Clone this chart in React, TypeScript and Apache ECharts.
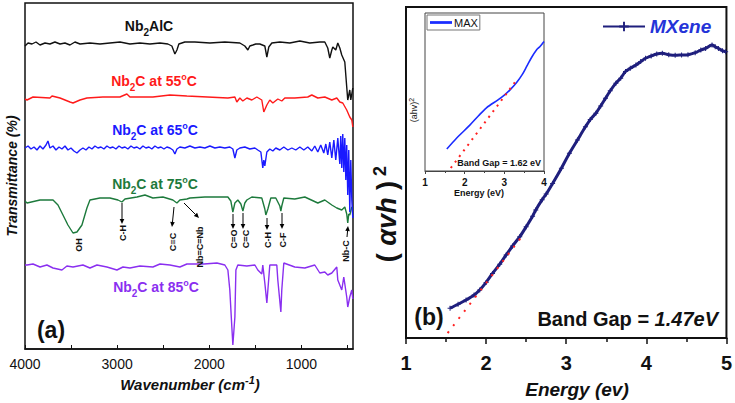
import React, { useEffect, useRef } from 'react';
import * as echarts from 'echarts';

const FONT = '"Liberation Sans", Arial, sans-serif';

// ---------- Panel (a): FTIR spectra, [wavenumber cm-1, offset transmittance a.u.] ----------
const nb2alcSpectrum: number[][] = [
  [4000, 303], [3967, 306], [3924, 305], [3881, 307], [3837, 304], [3783, 306], [3729, 305], [3675, 307],
  [3620, 305], [3566, 306], [3512, 304], [3458, 307], [3403, 305], [3295, 306], [3186, 305], [3078, 306],
  [2969, 307], [2861, 305], [2753, 306], [2644, 305], [2535, 306], [2449, 305], [2406, 303], [2373, 295],
  [2351, 299], [2330, 305], [2265, 307], [2156, 307], [1993, 306], [1831, 307], [1668, 306], [1614, 303],
  [1581, 299], [1560, 303], [1527, 304], [1495, 305], [1451, 305], [1397, 303], [1375, 292], [1354, 302],
  [1321, 306], [1234, 307], [1126, 306], [1017, 308], [909, 306], [800, 307], [746, 307], [714, 301],
  [692, 291], [670, 299], [659, 302], [627, 299], [605, 306], [583, 301], [562, 294], [529, 287],
  [508, 262], [497, 249], [475, 259], [464, 249], [442, 261],
];

const nb2c55Spectrum: number[][] = [
  [4000, 250], [3978, 249], [3913, 252], [3729, 251], [3707, 253], [3620, 251], [3512, 247], [3479, 246],
  [3403, 249], [3328, 251], [3154, 252], [2970, 252], [2894, 255], [2861, 252], [2612, 252], [2427, 254],
  [2243, 253], [1798, 251], [1722, 252], [1701, 247], [1668, 251], [1636, 248], [1592, 251], [1538, 249],
  [1484, 252], [1430, 249], [1408, 237], [1375, 244], [1343, 249], [1310, 246], [1256, 250], [1213, 248],
  [1180, 251], [1072, 251], [931, 252], [887, 254], [822, 251], [746, 252], [670, 249], [616, 251],
  [583, 247], [551, 246], [508, 239], [475, 232], [453, 229], [442, 222],
];

const nb2c65Spectrum: number[][] = [
  [4000, 201], [3967, 203], [3935, 200], [3902, 202], [3870, 199], [3837, 203], [3805, 200], [3772, 204],
  [3751, 208], [3729, 201], [3696, 203], [3664, 199], [3631, 202], [3599, 200], [3566, 203], [3534, 199],
  [3501, 201], [3469, 198], [3436, 196], [3403, 199], [3371, 201], [3338, 199], [3306, 202], [3273, 200],
  [3241, 203], [3208, 201], [3176, 202], [3143, 200], [3111, 203], [3078, 201], [3046, 202], [3013, 200],
  [2980, 203], [2948, 201], [2915, 202], [2883, 200], [2850, 203], [2818, 201], [2785, 202], [2753, 200],
  [2720, 203], [2688, 201], [2655, 202], [2623, 200], [2590, 203], [2557, 201], [2525, 202], [2492, 200],
  [2460, 202], [2427, 201], [2395, 199], [2373, 195], [2351, 200], [2319, 202], [2265, 201], [2210, 203],
  [2156, 201], [2102, 202], [2048, 201], [1993, 203], [1939, 201], [1885, 202], [1831, 201], [1777, 202],
  [1744, 200], [1722, 191], [1701, 199], [1668, 201], [1614, 202], [1560, 200], [1505, 201], [1473, 199],
  [1440, 197], [1419, 181], [1408, 189], [1397, 183], [1375, 197], [1343, 200], [1310, 198], [1278, 201],
  [1234, 199], [1191, 202], [1147, 199], [1104, 201], [1061, 199], [1017, 202], [974, 199], [931, 202],
  [887, 198], [855, 203], [822, 197], [790, 204], [757, 196], [735, 205], [714, 194], [692, 207],
  [670, 191], [648, 209], [627, 189], [605, 211], [583, 185], [573, 213], [562, 181], [551, 215],
  [540, 177], [529, 211], [518, 169], [508, 204], [497, 154], [486, 199], [475, 137], [464, 189],
  [453, 149], [442, 131],
];

const nb2c75Spectrum: number[][] = [
  [4000, 148], [3978, 146], [3837, 149], [3696, 149], [3642, 144], [3588, 134], [3534, 124], [3479, 116],
  [3436, 117], [3382, 124], [3328, 141], [3295, 149], [3187, 151], [3078, 151], [2991, 149], [2948, 147],
  [2915, 150], [2785, 152], [2698, 154], [2612, 151], [2503, 152], [2395, 149], [2351, 146], [2319, 149],
  [2243, 150], [2210, 151], [2048, 152], [1798, 152], [1766, 148], [1744, 137], [1722, 146], [1690, 149],
  [1657, 145], [1635, 138], [1614, 146], [1592, 149], [1538, 152], [1430, 151], [1397, 140], [1386, 134],
  [1364, 140], [1332, 151], [1278, 151], [1234, 143], [1223, 138], [1213, 143], [1191, 151], [1072, 150],
  [963, 152], [822, 146], [746, 149], [670, 144], [616, 141], [562, 139], [529, 142], [508, 135],
  [497, 126], [486, 135], [475, 134], [453, 142], [442, 140],
];

const nb2c85Spectrum: number[][] = [
  [4000, 84], [3978, 84], [3913, 85], [3837, 82], [3762, 84], [3696, 81], [3599, 79], [3545, 83],
  [3479, 82], [3371, 84], [3295, 81], [3219, 84], [3111, 82], [3002, 79], [2937, 82], [2861, 81],
  [2753, 83], [2612, 82], [2535, 85], [2427, 84], [2319, 82], [2243, 85], [2058, 85], [1917, 86],
  [1831, 84], [1798, 79], [1777, 59], [1755, 22], [1744, 4], [1722, 32], [1711, 79], [1690, 84],
  [1592, 83], [1505, 84], [1473, 79], [1430, 75], [1419, 84], [1397, 66], [1375, 46], [1364, 59],
  [1343, 84], [1267, 84], [1256, 69], [1223, 37], [1213, 59], [1191, 86], [1072, 82], [963, 81],
  [855, 84], [800, 76], [746, 77], [714, 74], [670, 76], [616, 82], [605, 69], [562, 59],
  [540, 72], [508, 52], [497, 42], [475, 52], [453, 59], [442, 50],
];

const ftirLabelTicks = [4000, 3000, 2000, 1000];
const ftirMinorTicks = [4000, 3500, 3000, 2500, 2000, 1500, 1000, 500];

// ---------- Panel (b): Tauc plot, [energy eV, (αhν)^2 a.u.] ----------
const mxeneCurve: number[][] = [
  [1.55, 9.0], [1.65, 10.2], [1.75, 11.5], [1.85, 13.0], [1.92, 14.5], [2.0, 16.8], [2.08, 19.5],
  [2.17, 22.3], [2.25, 25.1], [2.33, 27.8], [2.42, 30.6], [2.5, 33.6], [2.58, 36.8], [2.62, 38.7],
  [2.7, 41.8], [2.75, 43.5], [2.83, 46.7], [2.94, 51.3], [3.04, 55.8], [3.14, 59.8], [3.24, 63.8],
  [3.3, 66.0], [3.37, 67.9], [3.43, 70.1], [3.49, 72.4], [3.55, 74.7], [3.62, 77.0], [3.68, 78.5],
  [3.74, 80.5], [3.8, 81.5], [3.87, 82.5], [3.93, 83.5], [3.99, 84.5], [4.06, 85.2], [4.13, 85.8],
  [4.2, 86.0], [4.28, 85.6], [4.36, 85.4], [4.44, 85.5], [4.52, 85.6], [4.61, 86.2], [4.68, 87.0],
  [4.74, 87.5], [4.82, 88.5], [4.86, 88.0], [4.9, 87.5], [4.95, 86.8], [4.99, 86.5],
];
const mxeneTangent: number[][] = [[1.52, 1.5], [2.46, 31.1]];

const maxCurve: number[][] = [
  [1.55, 13.9], [1.8, 20.9], [2.13, 29.0], [2.35, 35.0], [2.55, 40.0], [2.84, 45.0], [3.0, 48.0],
  [3.15, 51.5], [3.31, 56.0], [3.45, 61.0], [3.56, 66.0], [3.69, 72.0], [3.81, 76.6], [3.9, 78.8],
  [3.97, 81.0], [4.0, 82.0],
];
const maxTangent: number[][] = [[1.65, 1.9], [3.31, 57.6]];

const energyTicks = [1, 2, 3, 4, 5];

function arrow(x1: number, y1: number, x2: number, y2: number) {
  const dx = x2 - x1;
  const dy = y2 - y1;
  const len = Math.sqrt(dx * dx + dy * dy) || 1;
  const ux = dx / len;
  const uy = dy / len;
  const hl = 5;
  const hw = 2.3;
  const bx = x2 - ux * hl;
  const by = y2 - uy * hl;
  return [
    { type: 'line', silent: true, shape: { x1, y1, x2: bx, y2: by }, style: { stroke: '#000', lineWidth: 1 } },
    {
      type: 'polygon', silent: true,
      shape: { points: [[x2, y2], [bx - uy * hw, by + ux * hw], [bx + uy * hw, by - ux * hw]] },
      style: { fill: '#000' },
    },
  ];
}

function richStyles(color: string, size: number) {
  return {
    m: { fontSize: size, fontWeight: 'bold', fill: color, fontFamily: FONT },
    s: { fontSize: Math.round(size * 0.68), fontWeight: 'bold', fill: color, fontFamily: FONT, padding: [13, 0, 0, 0] },
    u: { fontSize: Math.round(size * 0.62), fontWeight: 'bold', fill: color, fontFamily: FONT, padding: [0, 0, 9, 0] },
  };
}

function textEl(x: number, y: number, text: string, opts: any = {}) {
  return {
    type: 'text',
    x,
    y,
    rotation: opts.rotation || 0,
    silent: true,
    z: 10,
    style: {
      text,
      x: 0,
      y: 0,
      fill: opts.color || '#111',
      font: opts.font || `bold 12px ${FONT}`,
      rich: opts.rich,
      align: opts.align || 'center',
      verticalAlign: 'middle',
      textAlign: opts.align || 'center',
      textVerticalAlign: 'middle',
    },
  };
}

function spectrumLabel(x: number, y: number, temp: string | null, color: string) {
  const t = temp === null ? '{m|Nb}{s|2}{m|AlC}' : `{m|Nb}{s|2}{m|C at ${temp}}{u|o}{m|C}`;
  return textEl(x, y, t, { rich: richStyles(color, 14), color });
}

export default function App() {
  const ref = useRef<HTMLDivElement>(null);

  useEffect(() => {
    document.body.style.margin = '0';
    if (!ref.current) return;
    const chart = echarts.init(ref.current, undefined, { renderer: 'svg' });

    const PI2 = Math.PI / 2;
    const annot = (x: number, y: number, t: string) =>
      textEl(x, y, t, { rotation: PI2, font: `bold 9px ${FONT}` });

    const graphic: any[] = [
      // panel (a) titles
      textEl(12, 176, 'Transmittance (%)', { rotation: PI2, font: `italic bold 14px ${FONT}` }),
      textEl(190, 384, '{t|Wavenumber (cm}{u|-1}{t|)}', {
        rich: {
          t: { fontSize: 15, fontWeight: 'bold', fontStyle: 'italic', fill: '#111', fontFamily: FONT },
          u: { fontSize: 11, fontWeight: 'bold', fontStyle: 'italic', fill: '#111', fontFamily: FONT, padding: [0, 0, 9, 0] },
        },
      }),
      textEl(51, 330, '(a)', { font: `bold 23px ${FONT}` }),
      spectrumLabel(149, 26, null, '#111'),
      spectrumLabel(154, 81, '55', '#ff1a1a'),
      spectrumLabel(155, 130, '65', '#1a1aff'),
      spectrumLabel(155, 184, '75', '#1d7a3c'),
      spectrumLabel(156, 287, '85', '#8a2ff0'),
      // band assignments
      annot(79, 245, 'OH'),
      annot(123, 233, 'C-H'),
      annot(173, 242, 'C≡C'),
      annot(200, 247, 'Nb=C=Nb'),
      annot(234, 239, 'C=O'),
      annot(246, 239, 'C=C'),
      annot(268, 240, 'C-H'),
      annot(283, 240, 'C-F'),
      annot(346, 251, 'Nb-C'),
      ...arrow(122, 203, 122, 224),
      ...arrow(174, 207, 172, 227),
      ...arrow(184, 203, 199, 218),
      ...arrow(233, 214, 233, 229),
      ...arrow(243, 213, 243, 229),
      ...arrow(267, 218, 267, 230),
      ...arrow(282, 213, 282, 229),
      ...arrow(347, 237, 348, 226),
      // panel (b)
      textEl(387, 214, '{p|( }{i|αvh}{p| )}{u| 2}', {
        rotation: PI2,
        rich: {
          p: { fontSize: 27, fontWeight: 'bold', fill: '#111', fontFamily: FONT },
          i: { fontSize: 27, fontWeight: 'bold', fontStyle: 'italic', fill: '#111', fontFamily: FONT },
          u: { fontSize: 18, fontWeight: 'bold', fill: '#111', fontFamily: FONT, padding: [0, 0, 14, 0] },
        },
      }),
      textEl(577, 389, 'Energy (ev)', { font: `italic bold 19px ${FONT}` }),
      textEl(429, 317, '(b)', { font: `bold 23px ${FONT}` }),
      textEl(718, 319, '{t|Band Gap = }{i|1.47eV}', {
        align: 'right',
        rich: {
          t: { fontSize: 20, fontWeight: 'bold', fill: '#111', fontFamily: FONT },
          i: { fontSize: 20, fontWeight: 'bold', fontStyle: 'italic', fill: '#111', fontFamily: FONT },
        },
      }),
      // inset
      textEl(414, 110, '{t|(ahv)}{u|2}', {
        rotation: PI2,
        rich: {
          t: { fontSize: 9, fill: '#222', fontFamily: FONT },
          u: { fontSize: 7, fill: '#222', fontFamily: FONT, padding: [0, 0, 6, 0] },
        },
      }),
      textEl(479, 193, 'Energy (eV)', { font: `bold 9px ${FONT}` }),
      textEl(541, 163, 'Band Gap = 1.62 eV', { font: `bold 9px ${FONT}`, align: 'right' }),
    ];

    const hiddenY = (gridIndex: number, max: number) => ({
      type: 'value', gridIndex, min: 0, max,
      axisLine: { show: false }, axisTick: { show: false }, axisLabel: { show: false }, splitLine: { show: false },
    });

    const spectrum = (name: string, data: number[][], color: string) => ({
      name, type: 'line', xAxisIndex: 0, yAxisIndex: 0, data, showSymbol: false, symbol: 'none',
      lineStyle: { color, width: 1.4 }, itemStyle: { color }, z: 3,
    });

    const option: any = {
      animation: false,
      backgroundColor: '#fff',
      textStyle: { fontFamily: FONT },
      grid: [
        { left: 25, top: 3, width: 328, height: 346, show: true, borderColor: '#111', borderWidth: 1.5, containLabel: false },
        { left: 406, top: 7, width: 322, height: 331, show: true, borderColor: '#111', borderWidth: 2, containLabel: false },
        { left: 425, top: 13, width: 119, height: 158, show: true, borderColor: '#444', borderWidth: 1, backgroundColor: '#fff', containLabel: false },
      ],
      xAxis: [
        {
          type: 'value', gridIndex: 0, min: 440, max: 4000, inverse: true,
          axisLine: { show: true, lineStyle: { color: '#111', width: 1.5 } },
          axisTick: { show: true, inside: true, length: 4, customValues: ftirMinorTicks, lineStyle: { color: '#111' } },
          axisLabel: {
            show: true, customValues: ftirLabelTicks, fontSize: 14, color: '#111', margin: 8, fontFamily: FONT,
            formatter: (v: number) => String(v),
          },
          splitLine: { show: false },
        },
        {
          type: 'value', gridIndex: 1, min: 1, max: 5, interval: 1,
          axisLine: { show: true, lineStyle: { color: '#111', width: 2 } },
          axisTick: { show: true, inside: false, length: 6, lineStyle: { color: '#111', width: 1.5 }, customValues: energyTicks },
          minorTick: { show: true, splitNumber: 2, length: 4, lineStyle: { color: '#111', width: 1.5 } },
          axisLabel: { fontSize: 20, fontWeight: 'bold', color: '#111', margin: 15, fontFamily: FONT },
          splitLine: { show: false },
        },
        {
          type: 'value', gridIndex: 2, min: 1, max: 4, interval: 1,
          axisLine: { show: true, lineStyle: { color: '#444', width: 1 } },
          axisTick: { show: true, inside: false, length: 3, lineStyle: { color: '#444' } },
          minorTick: { show: true, splitNumber: 2, length: 2, lineStyle: { color: '#444' } },
          axisLabel: { fontSize: 10, fontWeight: 'bold', color: '#111', margin: 6, fontFamily: FONT },
          splitLine: { show: false },
        },
      ],
      yAxis: [hiddenY(0, 346), hiddenY(1, 100), hiddenY(2, 100)],
      legend: [
        {
          data: ['MXene'], left: 602, top: 17, padding: 0, itemWidth: 42, itemHeight: 12, itemGap: 4,
          textStyle: { fontSize: 19, fontWeight: 'bold', fontStyle: 'italic', color: '#2433d8', fontFamily: FONT },
        },
        {
          data: [{ name: 'MAX', icon: 'path://M0,0H24V3H0Z' }], left: 427, top: 15, padding: [2, 2, 2, 3],
          itemWidth: 22, itemHeight: 3, itemGap: 2,
          borderColor: '#777', borderWidth: 1, backgroundColor: '#fff',
          textStyle: { fontSize: 11, color: '#111', fontFamily: FONT, padding: [0, 0, 0, -3] },
        },
      ],
      series: [
        spectrum('Nb2AlC', nb2alcSpectrum, '#111111'),
        spectrum('Nb2C 55°C', nb2c55Spectrum, '#ff1a1a'),
        spectrum('Nb2C 75°C', nb2c75Spectrum, '#1d7a3c'),
        spectrum('Nb2C 85°C', nb2c85Spectrum, '#8a2ff0'),
        spectrum('Nb2C 65°C', nb2c65Spectrum, '#1a1aff'),
        {
          name: 'MXene', type: 'line', xAxisIndex: 1, yAxisIndex: 1, data: mxeneCurve, smooth: 0.3,
          symbol: 'path://M4,0H6V4H10V6H6V10H4V6H0V4H4Z', symbolSize: 5, showSymbol: true,
          lineStyle: { color: '#1f1f7d', width: 3 }, itemStyle: { color: '#1f1f7d' }, z: 4,
        },
        {
          name: 'MXene fit', type: 'line', xAxisIndex: 1, yAxisIndex: 1, data: mxeneTangent, symbol: 'none',
          lineStyle: { color: '#ff2020', width: 2, type: [2, 7] }, z: 5,
        },
        {
          name: 'MAX', type: 'line', xAxisIndex: 2, yAxisIndex: 2, data: maxCurve, smooth: 0.3, symbol: 'none',
          lineStyle: { color: '#1a2cff', width: 1.6 }, itemStyle: { color: '#1a2cff' }, z: 6,
        },
        {
          name: 'MAX fit', type: 'line', xAxisIndex: 2, yAxisIndex: 2, data: maxTangent, symbol: 'none',
          lineStyle: { color: '#ff2020', width: 2, type: [2, 5] }, z: 7,
        },
      ],
      graphic,
    };

    chart.setOption(option);
    return () => chart.dispose();
  }, []);

  return <div ref={ref} style={{ width: 735, height: 403 }} />;
}
